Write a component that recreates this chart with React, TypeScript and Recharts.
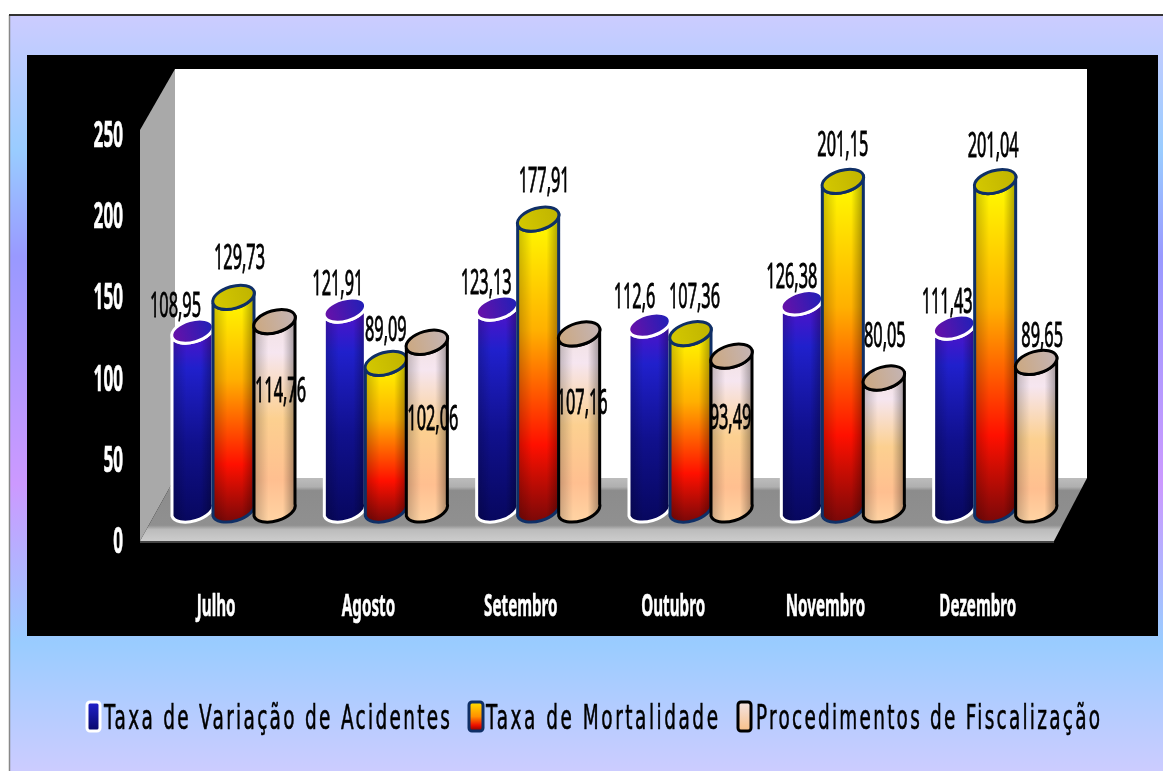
import * as React from "react"
import { Bar, BarChart, LabelList, Legend, XAxis, YAxis } from "recharts"

const months = ["Julho", "Agosto", "Setembro", "Outubro", "Novembro", "Dezembro"]
const acidentes = [108.95, 121.91, 123.13, 112.6, 126.38, 111.43]
const mortalidade = [129.73, 89.09, 177.91, 107.36, 201.15, 201.04]
const fiscalizacao = [114.76, 102.06, 107.16, 93.49, 80.05, 89.65]
const yTicks = [0, 50, 100, 150, 200, 250]

const seriesNames = ["Taxa de Variação de Acidentes", "Taxa de Mortalidade", "Procedimentos de Fiscalização"]

// where each value label sits relative to the top of its cylinder (the labels were hand placed)
const acidentesNudge = [[-17, -28], [-7, -29], [-11, -28], [-15, -31], [-10, -29], [-7, -28]]
const mortalidadeNudge = [[6, -42], [0, -36], [6, -41], [4, -40], [0, -39], [-2, -39]]
const fiscalizacaoNudge = [[6, 66], [6, 74], [3, 66], [-1, 59], [1, -45], [6, -29]]

const data = months.map((month, i) => ({
  month,
  acidentes: acidentes[i],
  mortalidade: mortalidade[i],
  fiscalizacao: fiscalizacao[i],
}))

const FONT = "'Noto Sans', sans-serif"
const DEPTH_X = 17
const DEPTH_Y = -31

function Cylinder({ x, y, width, height, body, top, edge }: any) {
  const cx = x + width / 2 + DEPTH_X
  const topY = y + DEPTH_Y - 2
  const baseY = y + height + DEPTH_Y
  const dx = width / 2
  const dy = 6
  const rx = Math.hypot(dx, dy)
  const ry = 11
  const angle = -16
  const d =
    `M${cx - dx},${topY + dy} L${cx - dx},${baseY + dy} ` +
    `A${rx},${ry} ${angle} 0 0 ${cx + dx},${baseY - dy} ` +
    `L${cx + dx},${topY - dy} A${rx},${ry} ${angle} 0 1 ${cx - dx},${topY + dy} Z`
  return (
    <g>
      <path d={d} fill={`url(#${body})`} />
      <path d={d} fill="url(#sideShade)" stroke={edge} strokeWidth={3} strokeLinejoin="round" />
      <ellipse
        cx={cx}
        cy={topY}
        rx={rx}
        ry={ry}
        transform={`rotate(${angle} ${cx} ${topY})`}
        fill={`url(#${top})`}
        stroke={edge}
        strokeWidth={3}
      />
    </g>
  )
}

const valueLabel = (values: number[], nudges: number[][]) => (props: any) => {
  const { x, y, width, index } = props
  const cx = x + width / 2 + DEPTH_X + nudges[index][0]
  const cy = y + DEPTH_Y + nudges[index][1]
  return (
    <g transform={`translate(${cx} ${cy}) scale(0.48 1)`}>
      <text textAnchor="middle" dy={12} fontFamily={FONT} fontSize={34} fill="#000" stroke="#000" strokeWidth={0.9}>
        {String(values[index]).replace(".", ",")}
      </text>
    </g>
  )
}

function YTick({ x, y, payload }: any) {
  return (
    <g transform={`translate(${x} ${y}) scale(0.49 1)`}>
      <text textAnchor="end" dy={12} fontFamily={FONT} fontWeight={700} fontSize={35} fill="#fff" stroke="#fff" strokeWidth={0.6}>
        {payload.value}
      </text>
    </g>
  )
}

function XTick({ x, y, payload }: any) {
  return (
    <g transform={`translate(${x} ${y}) scale(0.49 1)`}>
      <text textAnchor="middle" dy={14} fontFamily={FONT} fontWeight={700} fontSize={31} fill="#fff" stroke="#fff" strokeWidth={0.6}>
        {payload.value}
      </text>
    </g>
  )
}

function LegendBox() {
  const items = [
    { swatch: 87, sw: 13, text: 104, width: 346, fill: "url(#swatchBlue)", edge: "#fff" },
    { swatch: 469, sw: 14, text: 486, width: 232, fill: "url(#swatchFire)", edge: "#0f2f66" },
    { swatch: 738, sw: 13, text: 756, width: 344, fill: "url(#swatchTan)", edge: "#000" },
  ]
  return (
    <svg width={1163} height={60} style={{ display: "block" }}>
      <defs>
        <linearGradient id="swatchBlue" x1="0" y1="0" x2="0" y2="1">
          <stop offset="0" stopColor="#2222cc" />
          <stop offset="1" stopColor="#08086a" />
        </linearGradient>
        <linearGradient id="swatchFire" x1="0" y1="0" x2="0" y2="1">
          <stop offset="0" stopColor="#ffe000" />
          <stop offset="0.5" stopColor="#ff9000" />
          <stop offset="0.8" stopColor="#ee1000" />
          <stop offset="1" stopColor="#800000" />
        </linearGradient>
        <linearGradient id="swatchTan" x1="0" y1="0" x2="0" y2="1">
          <stop offset="0" stopColor="#f4e4e4" />
          <stop offset="1" stopColor="#f8c088" />
        </linearGradient>
      </defs>
      {items.map((it, i) => (
        <g key={seriesNames[i]}>
          <rect x={it.swatch} y={14} width={it.sw} height={29} rx={3} fill={it.fill} stroke={it.edge} strokeWidth={3} />
          <g transform={`translate(${it.text} 41) scale(0.56 1)`}>
            <text
              fontFamily="'DejaVu Sans', sans-serif"
              fontSize={33}
              fill="#000"
              stroke="#000"
              strokeWidth={0.6}
              textLength={it.width / 0.56}
              lengthAdjust="spacing"
            >
              {seriesNames[i]}
            </text>
          </g>
        </g>
      ))}
    </svg>
  )
}

function Backdrop() {
  return (
    <svg width={1163} height={771} style={{ position: "absolute", left: 0, top: 0 }}>
      <defs>
        <linearGradient id="page" x1="0" y1="0" x2="0" y2="1">
          <stop offset="0" stopColor="#ccccff" />
          <stop offset="0.18" stopColor="#99ccff" />
          <stop offset="0.32" stopColor="#9999ff" />
          <stop offset="0.62" stopColor="#cc99ff" />
          <stop offset="0.83" stopColor="#99ccff" />
          <stop offset="1" stopColor="#ccccff" />
        </linearGradient>
        <linearGradient id="floor" x1="0" y1="0" x2="0" y2="1">
          <stop offset="0" stopColor="#bcbcbc" />
          <stop offset="0.14" stopColor="#b0b0b0" />
          <stop offset="0.2" stopColor="#8c8c8c" />
          <stop offset="0.75" stopColor="#909090" />
          <stop offset="0.82" stopColor="#bcbcbc" />
          <stop offset="1" stopColor="#cccccc" />
        </linearGradient>
      </defs>
      <rect x={10} y={15} width={1153} height={756} fill="url(#page)" />
      <line x1={9.5} y1={15} x2={9.5} y2={771} stroke="#888" strokeWidth={1.5} />
      <line x1={9} y1={15} x2={1163} y2={15} stroke="#333" strokeWidth={2} />
      <rect x={27} y={55} width={1131} height={581} fill="#000" />
      <rect x={175} y={69} width={912} height={409} fill="#fff" />
      <polygon points="140,130 175,69 175,478 140,541" fill="#a9a9a9" />
      <polygon points="175,478 1087,478 1054,541 140,541" fill="url(#floor)" />
      <line x1={140} y1={542} x2={1054} y2={542} stroke="#444" strokeWidth={2} />
    </svg>
  )
}

export default function App() {
  return (
    <div
      style={{
        position: "absolute",
        left: 0,
        top: 0,
        width: 1163,
        height: 771,
        overflow: "hidden",
        filter: "blur(0.5px)",
      }}
    >
      <Backdrop />
      <div style={{ position: "absolute", left: 0, top: 0 }}>
        <BarChart
          width={1163}
          height={771}
          data={data}
          barSize={41}
          barGap={0}
          margin={{ top: 135, right: 109, bottom: 110, left: 0 }}
        >
          <defs>
            <linearGradient id="blueBody" x1="0" y1="0" x2="0" y2="1">
              <stop offset="0" stopColor="#5a10c8" />
              <stop offset="0.22" stopColor="#2020cc" />
              <stop offset="0.6" stopColor="#10108c" />
              <stop offset="1" stopColor="#07075e" />
            </linearGradient>
            <linearGradient id="fireBody" x1="0" y1="0" x2="0" y2="1">
              <stop offset="0" stopColor="#ffff00" />
              <stop offset="0.38" stopColor="#ffb000" />
              <stop offset="0.75" stopColor="#ff1000" />
              <stop offset="1" stopColor="#7a0808" />
            </linearGradient>
            <linearGradient id="tanBody" x1="0" y1="0" x2="0" y2="1">
              <stop offset="0" stopColor="#f0e0e0" />
              <stop offset="0.18" stopColor="#f6e6f0" />
              <stop offset="0.5" stopColor="#fcd090" />
              <stop offset="0.8" stopColor="#ffbf90" />
              <stop offset="1" stopColor="#ffd4a4" />
            </linearGradient>
            <linearGradient id="sideShade" x1="0" y1="0" x2="1" y2="0">
              <stop offset="0" stopColor="#000" stopOpacity={0.22} />
              <stop offset="0.35" stopColor="#000" stopOpacity={0} />
              <stop offset="0.7" stopColor="#000" stopOpacity={0} />
              <stop offset="1" stopColor="#000" stopOpacity={0.35} />
            </linearGradient>
            <linearGradient id="blueTop" x1="0" y1="0" x2="1" y2="0">
              <stop offset="0" stopColor="#6a10a8" />
              <stop offset="1" stopColor="#2020b8" />
            </linearGradient>
            <linearGradient id="fireTop" x1="0" y1="0" x2="1" y2="0">
              <stop offset="0" stopColor="#d4c800" />
              <stop offset="1" stopColor="#c0b400" />
            </linearGradient>
            <linearGradient id="tanTop" x1="0" y1="0" x2="1" y2="0">
              <stop offset="0" stopColor="#cca880" />
              <stop offset="1" stopColor="#c4b4b4" />
            </linearGradient>
          </defs>
          <XAxis dataKey="month" height={60} axisLine={false} tickLine={false} tick={<XTick />} tickMargin={55} interval={0} />
          <YAxis
            width={140}
            domain={[0, 250]}
            ticks={yTicks}
            axisLine={false}
            tickLine={false}
            tick={<YTick />}
            tickMargin={11}
          />
          <Legend
            verticalAlign="bottom"
            height={60}
            wrapperStyle={{ left: 0, width: 1163, bottom: 23 }}
            content={<LegendBox />}
          />
          <Bar
            dataKey="acidentes"
            name={seriesNames[0]}
            isAnimationActive={false}
            shape={(p: any) => <Cylinder {...p} body="blueBody" top="blueTop" edge="#fff" />}
          >
            <LabelList content={valueLabel(acidentes, acidentesNudge)} />
          </Bar>
          <Bar
            dataKey="mortalidade"
            name={seriesNames[1]}
            isAnimationActive={false}
            shape={(p: any) => <Cylinder {...p} body="fireBody" top="fireTop" edge="#0f2f66" />}
          >
            <LabelList content={valueLabel(mortalidade, mortalidadeNudge)} />
          </Bar>
          <Bar
            dataKey="fiscalizacao"
            name={seriesNames[2]}
            isAnimationActive={false}
            shape={(p: any) => <Cylinder {...p} body="tanBody" top="tanTop" edge="#000" />}
          >
            <LabelList content={valueLabel(fiscalizacao, fiscalizacaoNudge)} />
          </Bar>
        </BarChart>
      </div>
    </div>
  )
}
